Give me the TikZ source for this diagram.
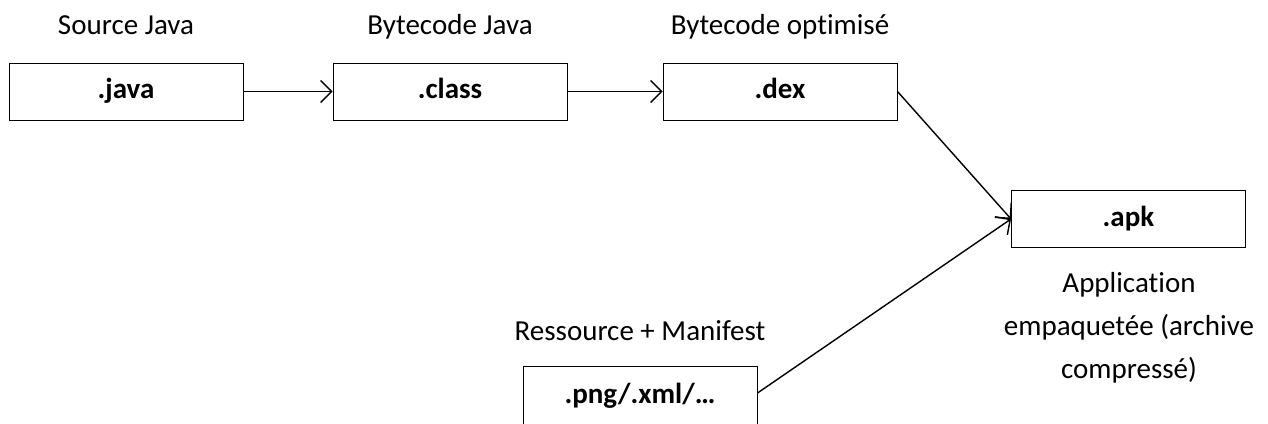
\documentclass[tikz,border=0pt]{standalone}
\usepackage{fontspec}
\setmainfont[Ligatures={NoCommon},RawFeature={-liga}]{Carlito}
\usetikzlibrary{arrows.meta}
\begin{document}
\begin{tikzpicture}[x=1pt,y=-1pt,
  box/.style={draw,line width=1pt,minimum width=234pt,minimum height=57pt,inner sep=0pt,text height=20pt,text depth=6pt,font=\fontsize{29}{35}\selectfont\bfseries},
  lbl/.style={font=\fontsize{29}{43}\selectfont,align=center,inner sep=0pt,text height=20pt,text depth=6pt},
  mlbl/.style={font=\fontsize{29}{43}\selectfont,align=center,inner sep=0pt},
  conn/.style={line width=1.4pt,-{Straight Barb[length=11pt,width=22pt,line width=1.4pt]}}]
\clip (0,0) rectangle (1268,423);
\useasboundingbox (0,0) rectangle (1268,423);
\node[box] (java) at (126,91.5) {.java};
\node[box] (class) at (450,91.5) {.class};
\node[box] (dex) at (780,91.5) {.dex};
\node[box] (apk) at (1128.5,219) {.apk};
\node[box,minimum height=60pt] (png) at (640,396) {.png/.xml/…};
\node[lbl] (ljava) at (126,27) {Source Java};
\node[lbl] (lclass) at (450,27) {Bytecode Java};
\node[lbl] (ldex) at (780,27) {Bytecode optimisé};
\node[lbl] (lpng) at (640,333) {Ressource + Manifest};
\node[mlbl,anchor=base] (lapk) at (1129,378) {Application\\empaquetée (archive\\compressé)};
\draw[conn] (java.east) -- (class.west);
\draw[conn] (class.east) -- (dex.west);
\draw[conn] (dex.east) -- (apk.west);
\draw[conn] (png.east |- 0,393) -- (apk.west);
\end{tikzpicture}
\end{document}
